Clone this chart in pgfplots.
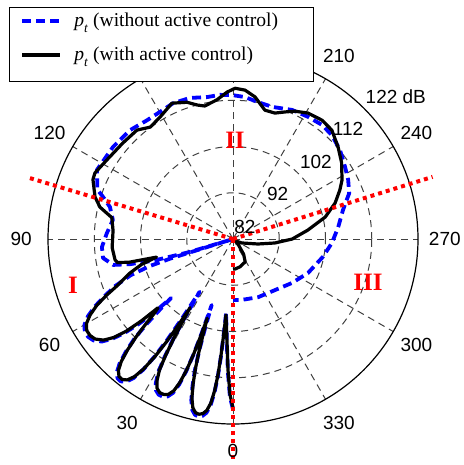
\documentclass[border=0pt]{standalone}
\usepackage{fontspec}
\setmainfont{Liberation Serif}
\newfontfamily\arialfont{Liberation Sans}
\usepackage{pgfplots}
\usepackage{pgfplotstable}
\pgfplotsset{compat=1.18}

% theta (deg, clockwise from bottom), level (dB)
\pgfplotstableread{
t r
0 118.5
1.1 115.7
2.2 110.3
3.2 104.9
4.3 101
5.3 98.5
5.6 103
5.9 107.5
6.3 111.5
6.9 115
7.7 117.8
8.7 119.5
9.8 120.3
11.0 120.6
12.2 120.4
13.4 119.5
14.5 117.5
15.4 114.5
16.2 111
16.9 107
17.5 103
18.0 100
18.4 104
18.9 108.5
19.5 112
20.3 115
21.3 117.2
22.6 118.4
24.0 118.8
25.5 118.8
27.0 118.2
28.2 116.8
29.3 114.5
30.1 111
30.8 107
31.4 103
32.0 99.5
32.4 104
32.9 108.5
33.6 112.5
34.5 116
35.6 118.6
36.9 120.1
38.3 120.7
39.7 120.6
41.1 119.7
42.4 117.8
43.6 115
44.7 111.8
45.7 108.5
46.6 105.5
47.5 104
48.2 108.5
49.2 112.5
50.5 115.5
52 117.5
54 118.8
56 119.3
58 119.3
60 118.6
62 117
64 114.8
66 112
68.2 108.8
71.7 105.5
74.5 102.5
76.7 99
77.4 105
78.5 107.5
80 107.9
86 108.2
94 108
100 108.6
103.5 111.6
107 113.2
113 114.9
115.6 115.1
122 114.2
131 113.6
138.6 113.4
143.5 112.1
149 112.7
155.8 114.2
161.4 113.2
165 112
168 111.4
173.4 112.3
177.7 113.8
180.8 114.6
184.6 114.3
188.8 113.1
193.9 110.7
198.4 110.7
202.3 111.7
205.8 112.7
210.8 113.7
216.8 114.1
222.2 113.8
228.8 112.2
234.9 110.7
241.6 108.8
245.4 107.4
250.6 105.4
256.6 102.5
263.2 98.3
270 94.8
275.4 91.1
281.3 87.5
294 84.1
305 82.8
319 84
325 86
332 87.6
346 88.2
356 88.5
360 88.5
}\blacktbl

\pgfplotstableread{
t r
0 118.8
1.1 116.2
2.2 110.8
3.2 105.3
4.3 101
5.3 98
5.6 103
5.9 107.8
6.3 112
6.9 115.5
7.7 118.3
8.7 120
9.8 120.8
11.0 121.1
12.2 120.9
13.4 120
14.5 118
15.4 115
16.2 111.5
16.9 107
17.4 102
17.9 97
18.4 103.5
18.9 108.5
19.5 112.3
20.3 115.5
21.3 117.7
22.6 118.9
24.0 119.3
25.5 119.3
27.0 118.7
28.2 117.3
29.3 115
30.1 111.5
30.8 107.5
31.5 102.5
32.3 95.5
32.7 102.5
33.1 108
33.7 112.5
34.5 116.3
35.6 119
36.9 120.6
38.3 121.2
39.7 121.1
41.1 120.2
42.4 118.3
43.6 115.5
44.7 112.3
45.5 108
46.0 104
46.4 100.5
47.1 105.5
48.0 109.5
49.1 113
50.5 116
52 118
54 119.3
56 119.8
58 119.8
60 119.1
62 117.5
64 115.2
66 112.4
68.2 109.5
70.5 105.5
72.0 101
72.7 96
73.0 82.5
73.4 92
74.8 100
76.3 105
77.8 108.5
81.7 110.4
86.5 110.4
92.7 109.3
99 108.3
104.6 109.5
107.9 111.5
110 113.2
116.9 115
127.5 114.7
136.6 114.4
144.1 113.7
150.1 113.7
156.2 114.1
163 113.9
169.6 113.2
174.8 113.3
180 113.1
184.8 112.8
190.3 112.1
196.5 111.8
204.6 112.7
211.6 113
218 113.3
223.6 113
230.2 112.1
237.3 110.8
242.8 110
248.5 109
255.2 106.6
263.5 104.9
272.3 103.4
281.3 101.8
294.4 99.8
306.7 97.9
320.5 96.3
336.7 95.7
351.6 95.3
360 95.2
}\bluetbl

\begin{document}
\begin{tikzpicture}[x=2.3125pt,y=2.3125pt]
% polar grid
\begin{scope}[black!75, line width=0.5pt, dash pattern=on 3.5pt off 2.5pt]
\foreach \rr in {10,20,30} \draw (0,0) circle[radius=\rr];
\foreach \a in {0,30,...,330} \draw (0,0) -- (\a:40);
\end{scope}
\draw[black, line width=0.6pt] (0,0) circle[radius=40];

\begin{axis}[at={(0,0)}, anchor=origin, x=2.3125pt, y=2.3125pt,
  xmin=-40, xmax=40, ymin=-40, ymax=40, hide axis, clip=false]
\addplot[blue, line width=1.9pt, dash pattern=on 4.5pt off 2.5pt, line join=round, mark=none]
  table[x expr={-(\thisrow{r}-82)*sin(\thisrow{t})}, y expr={-(\thisrow{r}-82)*cos(\thisrow{t})}] {\bluetbl};
\addplot[black, line width=1.6pt, line join=round, mark=none]
  table[x expr={-(\thisrow{r}-82)*sin(\thisrow{t})}, y expr={-(\thisrow{r}-82)*cos(\thisrow{t})}] {\blacktbl};
\end{axis}

% red dotted sector lines
\begin{scope}[red, line width=2pt, dash pattern=on 2pt off 2pt]
\draw (0,0) -- (270:47.6);
\draw (0,0) -- (163.3:45.9);
\draw (0,0) -- (17.3:45.2);
\end{scope}

% angle labels (150 and 180 lie under the legend in the original)
\foreach \a in {0,30,60,90,120,210,240,270,300,330}
  \node[font=\arialfont\fontsize{9.5}{11}\selectfont, inner sep=0pt] at ({270-\a}:45.8) {\a};

% radial labels
\begin{scope}[font=\arialfont\fontsize{9.5}{11}\selectfont]
\node[anchor=base west, inner sep=0pt] at (0.2,1.3) {82};
\node[anchor=base west, inner sep=0pt] at (7.3,8.3) {92};
\node[anchor=base west, inner sep=0pt] at (14.4,15.3) {102};
\node[anchor=base west, inner sep=0pt] at (21.5,22.3) {112};
\node[anchor=base west, inner sep=0pt] at (28.6,29.3) {122 dB};
\end{scope}

% region labels
\begin{scope}[red, font=\bfseries\fontsize{12.5}{14}\selectfont]
\node[inner sep=0pt] at (-34.59,-9.95) {I};
\node[inner sep=0pt] at (0.43,21.4) {II};
\node[inner sep=0pt] at (29.19,-9.41) {III};
\end{scope}

% legend
\draw[fill=white, line width=0.5pt] (-48.43,34.16) rectangle (17.51,49.95);
\draw[blue, line width=1.9pt, dash pattern=on 4.5pt off 2.5pt] (-45.62,47.14) -- (-37.41,47.14);
\draw[black, line width=1.6pt] (-45.62,39.78) -- (-37.41,39.78);
\node[anchor=base west, inner sep=0pt, font=\fontsize{9.8}{11}\selectfont] at (-34.38,46.05)
  {\textit{p}\raisebox{-0.35em}{\fontsize{6.7}{7}\selectfont\textit{t}} (without active control)};
\node[anchor=base west, inner sep=0pt, font=\fontsize{9.8}{11}\selectfont] at (-34.38,38.7)
  {\textit{p}\raisebox{-0.35em}{\fontsize{6.7}{7}\selectfont\textit{t}} (with active control)};

\pgfresetboundingbox
\path[use as bounding box] (-50.38,-48.86) rectangle (49.73,51.68);
\end{tikzpicture}
\end{document}
